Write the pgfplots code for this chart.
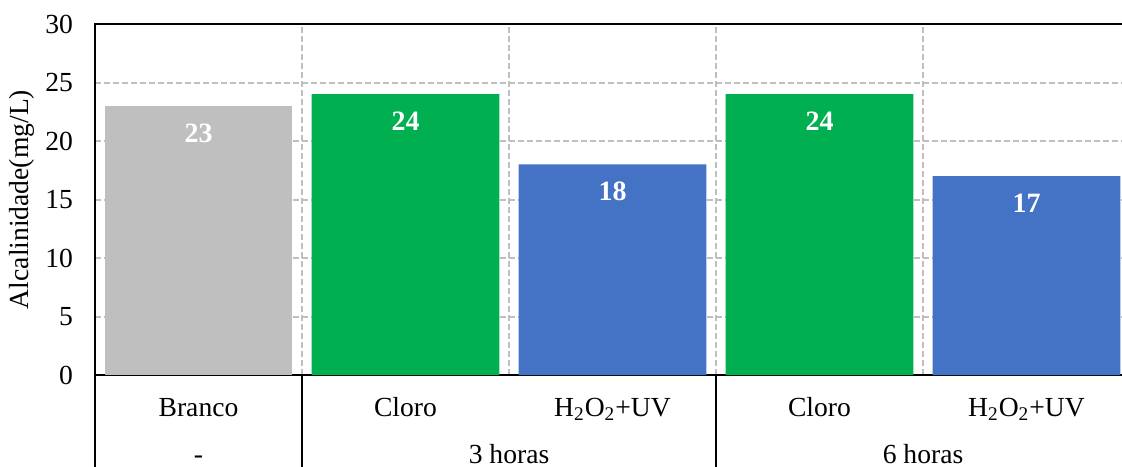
\documentclass[border=0pt]{standalone}
\usepackage{pgfplots}
\pgfplotsset{compat=1.18}
\usepackage{fontspec}
\setmainfont{Liberation Serif}
\definecolor{cgreen}{HTML}{00B050}
\definecolor{cblue}{HTML}{4472C4}
\definecolor{cgray}{HTML}{BFBFBF}
\definecolor{cgrid}{HTML}{BFBFBF}
\begin{document}
\begin{tikzpicture}[font=\fontsize{13.8}{16}\selectfont]
\begin{scope}
\clip (-47.5pt,-45.5pt) rectangle (513.5pt,187.5pt);
\begin{axis}[
  at={(0pt,0pt)}, anchor=south west,
  scale only axis, width=517.5pt, height=175.5pt,
  xmin=-0.5, xmax=4.5, ymin=0, ymax=30,
  ytick={0,5,...,30},
  xtick={0,...,4},
  xticklabels={Branco,Cloro,H\textsubscript{2}O\textsubscript{2}+UV,Cloro,H\textsubscript{2}O\textsubscript{2}+UV},
  minor xtick={0.5,1.5,2.5,3.5},
  ymajorgrids, xminorgrids,
  major grid style={cgrid, line width=1pt, dash pattern=on 3pt off 1.5pt},
  minor grid style={cgrid, line width=1pt, dash pattern=on 3pt off 1.5pt},
  major tick length=0pt, minor tick length=0pt,
  axis line style={black, line width=1pt},
  /pgf/number format/assume math mode=true,
  xticklabel style={anchor=base, yshift=-20.5pt},
  yticklabel style={xshift=-7.5pt},
  ylabel={Alcalinidade(mg/L)},
  ylabel style={at={(axis description cs:-0.0705,0.5)}, anchor=center},
  ybar, bar width=0.908, bar shift=0pt,
  nodes near coords,
  every node near coord/.append style={font=\bfseries\fontsize{14}{16}\selectfont, text=white, anchor=center, yshift=-13.5pt},
  clip=false,
]
\addplot[fill=cgray, draw=none] coordinates {(0,23)};
\addplot[fill=cgreen, draw=none] coordinates {(1,24) (3,24)};
\addplot[fill=cblue, draw=none] coordinates {(2,18) (4,17)};
\draw[black, line width=1pt] (axis cs:-0.5,0) -- ([yshift=-50pt]axis cs:-0.5,0);
\draw[black, line width=1pt] (axis cs:0.5,0) -- ([yshift=-50pt]axis cs:0.5,0);
\draw[black, line width=1pt] (axis cs:2.5,0) -- ([yshift=-50pt]axis cs:2.5,0);
\node[anchor=base, yshift=-44pt] at (axis cs:0,0) {-};
\node[anchor=base, yshift=-44pt] at (axis cs:1.5,0) {3 horas};
\node[anchor=base, yshift=-44pt] at (axis cs:3.5,0) {6 horas};
\end{axis}
\end{scope}
\pgfresetboundingbox
\path[use as bounding box] (-47.5pt,-45.5pt) rectangle (513.5pt,187.5pt);
\end{tikzpicture}
\end{document}
